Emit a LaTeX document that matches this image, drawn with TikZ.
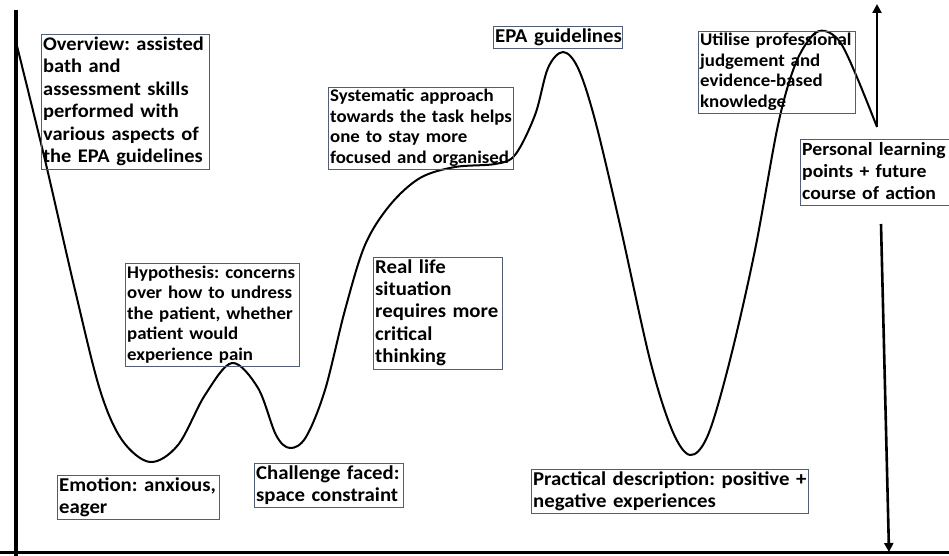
\documentclass[tikz,border=0pt]{standalone}
\usepackage{fontspec}
\setmainfont[FakeStretch=1.06]{Carlito}
\usepackage{xcolor}
\usepackage{tikz}
\usetikzlibrary{arrows.meta}
\definecolor{boxline}{HTML}{525E77}
\frenchspacing
\newcommand{\stagetext}[1]{\begin{tabular}{@{}l@{}}#1\end{tabular}}

\begin{document}
\begin{tikzpicture}[x=1pt, y=-1pt,
    stage/.style={draw=boxline, line width=1.3pt, anchor=north west, align=left,
                  inner xsep=1.5pt, inner ysep=0pt,
                  font=\fontsize{19.6}{22}\selectfont\bfseries},
    small/.style={font=\fontsize{17.8}{20.5}\selectfont\bfseries},
    axis/.style={line width=3pt, black},
    tip/.style={-{Triangle[width=9pt,length=9pt]}, line width=2.6pt}
  ]
    \useasboundingbox (0,0) rectangle (949,556);

    % reflective journey curve
    \draw[line width=2pt, line join=round] plot[smooth, tension=0.55] coordinates {
      (16,42) (45,160) (75,290) (100,390) (122,440) (150,462) (178,445) (205,395)
      (232,363) (258,388) (276,435) (290,448) (306,437) (325,390) (345,310) (365,245)
      (390,205) (420,178) (455,167) (495,164) (515,155) (535,115) (548,68) (563,52)
      (578,68) (595,120) (620,225) (650,360) (672,430) (690,455) (708,435) (730,360)
      (755,250) (778,125) (795,65) (812,36) (825,31) (840,42) (856,75) (877,127)};

    % axes
    \draw[axis, line width=3.5pt] (16,10) -- (16,556);
    \draw[axis] (0,552) -- (949,552);

    \node[stage, text width=165pt, minimum height=134pt,
          font=\fontsize{19.3}{22.5}\selectfont\bfseries] (overview) at (41,34)
      {\stagetext{Overview: assisted\\bath and\\assessment skills\\performed with\\various aspects of\\the EPA guidelines}};
    \node[stage, small, text width=171pt, minimum height=101pt] (hypo) at (125,263)
      {\stagetext{Hypothesis: concerns\\over how to undress\\the patient, whether\\patient would\\experience pain}};
    \node[stage, text width=159pt, minimum height=44pt] (emotion) at (57,475)
      {\stagetext{Emotion: anxious,\\eager}};
    \node[stage, text width=146pt, minimum height=44pt] (challenge) at (254,463)
      {\stagetext{Challenge faced:\\space constraint}};
    \node[stage, small, text width=182pt, minimum height=81pt] (system) at (328,87)
      {\stagetext{Systematic approach\\towards the task helps\\one to stay more\\focused and organised}};
    \node[stage, text width=126pt, minimum height=111pt, font=\fontsize{19.6}{22.3}\selectfont\bfseries]
      (reallife) at (373,257)
      {\stagetext{Real life\\situation\\requires more\\critical\\thinking}};
    \node[stage, text width=126pt, minimum height=22pt] (epa) at (493,26)
      {\stagetext{EPA guidelines}};
    \node[stage, small, text width=154pt, minimum height=81pt] (utilise) at (698,31)
      {\stagetext{Utilise professional\\judgement and\\evidence-based\\knowledge}};
    \node[stage, text width=152pt, minimum height=66pt, font=\fontsize{18.6}{22}\selectfont\bfseries]
      (personal) at (800,139)
      {\stagetext{Personal learning\\points + future\\course of action}};
    \node[stage, text width=274pt, minimum height=44pt] (practical) at (531,469)
      {\stagetext{Practical description: positive +\\negative experiences}};

    % two-way arrow round the learning points
    \coordinate (upfrom) at (877,127);
    \coordinate (upto) at (877,4);
    \coordinate (downfrom) at (881,224);
    \coordinate (downto) at (889,552);
    \draw[tip] (upfrom) -- (upto);
    \draw[tip] (downfrom) -- (downto);
  \end{tikzpicture}
\end{document}
